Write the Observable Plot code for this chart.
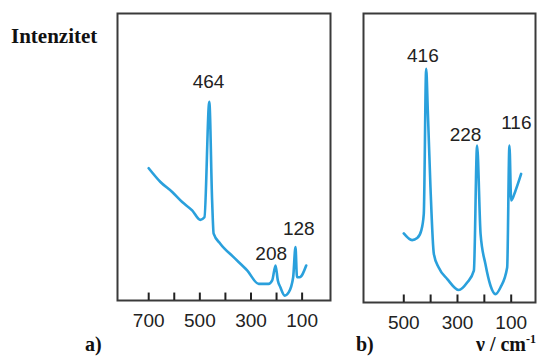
<!DOCTYPE html>
<html>
<head>
<meta charset="utf-8">
<script src="https://cdn.jsdelivr.net/npm/d3@7"></script>
<script src="https://cdn.jsdelivr.net/npm/@observablehq/plot@0.6"></script>
<style>
  html, body { margin: 0; padding: 0; background: #fff; }
  #wrap { position: relative; width: 553px; height: 358px; overflow: hidden; background: #fff; }
  .lbl { position: absolute; font-family: "Liberation Serif", "Times New Roman", serif; font-weight: bold; color: #111; white-space: nowrap; line-height: 1; }
  #pa { position: absolute; left: 0; top: 0; }
  #pb { position: absolute; left: 345px; top: 0; }
</style>
</head>
<body>
<div id="wrap">
  <div id="pa"></div>
  <div id="pb"></div>
  <div class="lbl" style="left:11px; top:26px; font-size:21px;">Intenzitet</div>
  <div class="lbl" style="left:85px; top:334px; font-size:20px;">a)</div>
  <div class="lbl" style="left:356px; top:334px; font-size:20px;">b)</div>
  <div class="lbl" style="left:476px; top:334px; font-size:20px;">ν / cm<span style="font-size:12px; position:relative; top:-8px;">-1</span></div>
</div>
<script>
// Panel a: wavenumber (cm-1) and relative intensity
const waveA = [700, 654, 608, 569, 530, 498, 482, 463, 452, 446, 420, 368, 315, 270, 231, 217, 204, 195, 185, 168, 152, 135, 126, 120, 110, 84];
const intA  = [46.1, 41.3, 37.8, 34.3, 31.4, 28.1, 29.0, 69.2, 34.9, 23.3, 19.8, 15.1, 10.5, 5.8, 5.8, 7.0, 12.2, 7.0, 4.6, 1.7, 2.9, 8.1, 18.6, 8.1, 8.1, 12.2];
const peakLabelsA = ["464", "208", "128"];
const peakWaveA = [466, 221, 113];
const peakIntA = [76, 16.4, 25];
const ticksA = [700, 600, 500, 400, 300, 200, 100];
const tickLabelsA = [700, 500, 300, 100];

// Panel b
const waveB = [500, 469, 450, 435, 425.5, 416.6, 410.6, 400.6, 388, 370, 338, 295, 264, 239, 227, 214, 196, 177, 158.5, 140, 115, 106.6, 100, 84, 63];
const intB  = [23.9, 21.6, 22.3, 24.9, 30.7, 80.9, 66.5, 39.9, 16.8, 12.1, 8.1, 4.3, 6.9, 11.0, 54.3, 23.7, 13.3, 5.8, 2.9, 5.2, 12.1, 54.3, 35.3, 38.7, 44.5];
const peakLabelsB = ["416", "228", "116"];
const peakWaveB = [429, 270, 81];
const peakIntB = [85.3, 58.1, 62.1];
const ticksB = [500, 400, 300, 200, 100];
const tickLabelsB = [500, 300, 100];

const lineColor = "#2aa0dc";
const ink = "#222";
const sans = "'Liberation Sans', Arial, sans-serif";

function panel(opts) {
  const spectrum = opts.wave.map((w, i) => ({w, v: opts.int[i]})).sort((a, b) => a.w - b.w);
  const labels = opts.labels.map((t, i) => ({t, w: opts.lw[i], v: opts.lv[i]}));
  const tickRows = opts.ticks.map(t => ({t}));
  return Plot.plot({
    width: opts.width,
    height: 358,
    marginLeft: opts.ml,
    marginRight: opts.mr,
    marginTop: 13,
    marginBottom: opts.mb,
    style: {background: "transparent", fontFamily: sans, overflow: "visible"},
    x: {domain: opts.xdomain, label: null},
    y: {domain: [0, 100], label: null, axis: null},
    marks: [
      Plot.frame({stroke: "#3a3a3a", strokeWidth: 2, fill: "none"}),
      Plot.axisX({ticks: opts.tickLabels, tickSize: 0, tickPadding: 13, fontSize: 19, fill: ink, label: null, tickFormat: d => String(d)}),
      Plot.line(spectrum, {x: "w", y: "v", curve: "monotone-x", stroke: lineColor, strokeWidth: 2.6, strokeLinejoin: "round", strokeLinecap: "round"}),
      Plot.ruleX(tickRows, {x: "t", y1: 0, y2: 2.6, stroke: "#222", strokeWidth: 2}),
      Plot.text(labels, {x: "w", y: "v", text: "t", fontSize: 19, fill: ink, fontFamily: sans})
    ]
  });
}

document.getElementById("pa").append(panel({
  wave: waveA, int: intA, labels: peakLabelsA, lw: peakWaveA, lv: peakIntA,
  ticks: ticksA, tickLabels: tickLabelsA,
  width: 345, ml: 117, mr: 15, mb: 58, xdomain: [822, -11]
}));
document.getElementById("pb").append(panel({
  wave: waveB, int: intB, labels: peakLabelsB, lw: peakWaveB, lv: peakIntB,
  ticks: ticksB, tickLabels: tickLabelsB,
  width: 208, ml: 18, mr: 18, mb: 56, xdomain: [650, 9.5]
}));
</script>
</body>
</html>
